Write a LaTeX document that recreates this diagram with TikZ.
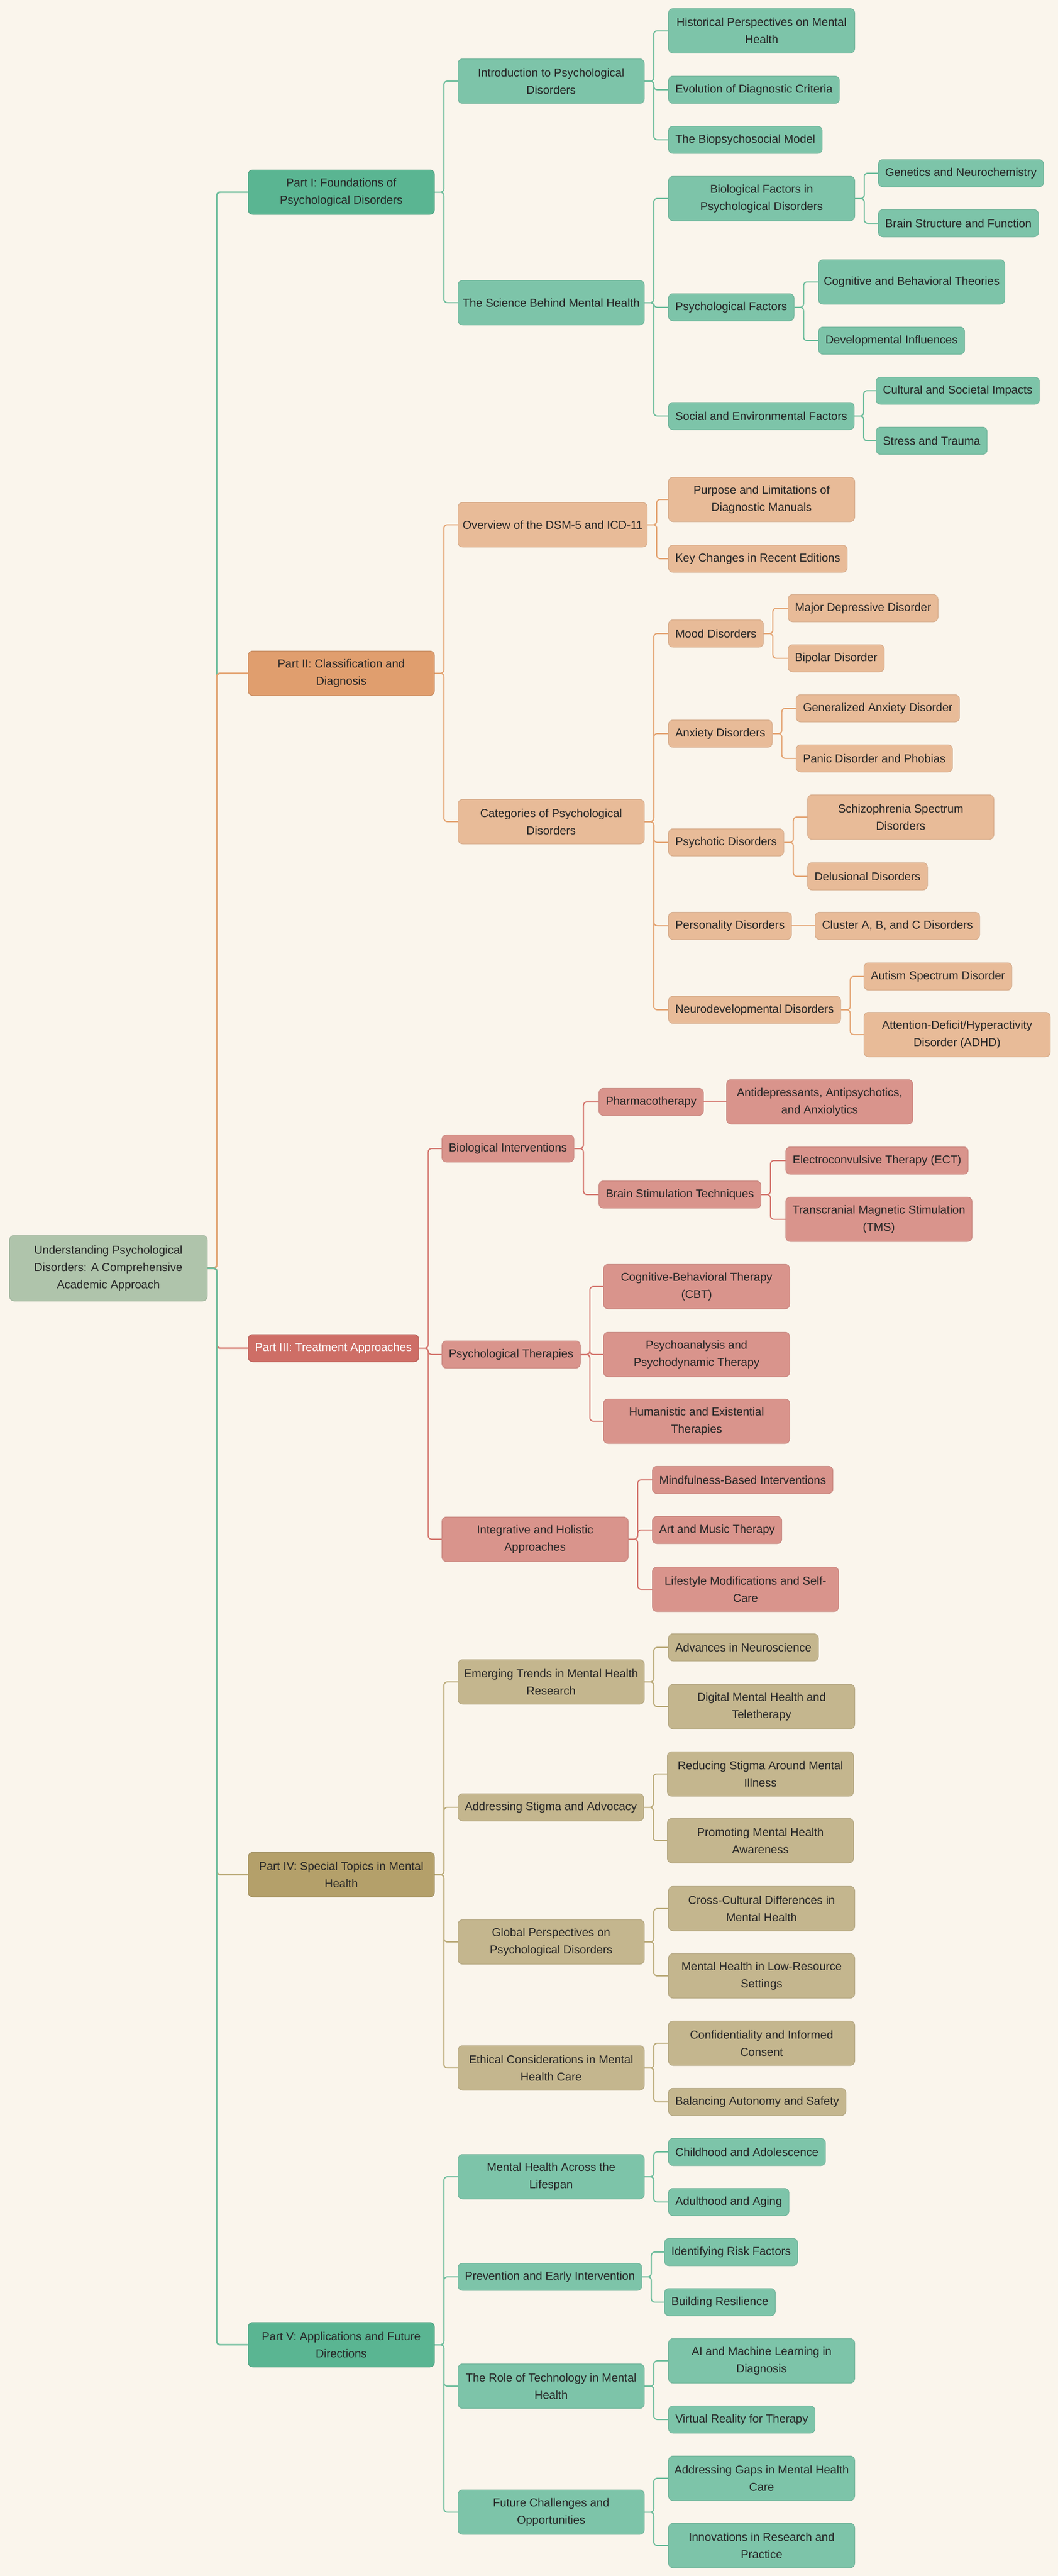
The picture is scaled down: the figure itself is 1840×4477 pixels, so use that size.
\documentclass[tikz,border=0pt]{standalone}
\usepackage{fontspec}
\setmainfont{Liberation Sans}
\usetikzlibrary{backgrounds}

\definecolor{fond}{HTML}{FAF5EC}
\definecolor{racine}{HTML}{AFC4AB}
\definecolor{vertA}{HTML}{5AB592}
\definecolor{vertB}{HTML}{7DC4A9}
\definecolor{vertL}{HTML}{6DBD9C}
\definecolor{orA}{HTML}{E09E6E}
\definecolor{orB}{HTML}{E8BB98}
\definecolor{orL}{HTML}{E4A574}
\definecolor{rgA}{HTML}{CE6E66}
\definecolor{rgB}{HTML}{D9948C}
\definecolor{rgL}{HTML}{D4776F}
\definecolor{olA}{HTML}{B4A06A}
\definecolor{olB}{HTML}{C4B68E}
\definecolor{olL}{HTML}{BBAB7A}

% lien parent -> enfant
\newcommand{\Lien}[3]{%
    \draw[#1] (#2.east) -- ++(16,0) |- (#3.west);
}
% lien direct (enfant unique, meme hauteur)
\newcommand{\Droit}[3]{%
    \draw[#1] (#2.east) -- (#3.west);
}

\begin{document}
\begin{tikzpicture}[x=0.5pt,y=-0.5pt,
    boite/.style={rounded corners=4pt,anchor=west,minimum height=23.75pt,
        inner xsep=6pt,inner ysep=2pt,line width=0.5pt,text=black!85,
        font=\fontsize{10}{15}\selectfont},
    large/.style={boite,align=center,minimum width=162pt,
        minimum height=38.75pt,inner xsep=4pt},
    rac/.style={fill=racine,draw=racine!92!black},
    vA/.style={fill=vertA,draw=vertA!88!black},
    vB/.style={fill=vertB,draw=vertB!92!black},
    oA/.style={fill=orA,draw=orA!88!black},
    oB/.style={fill=orB,draw=orB!92!black},
    rA/.style={fill=rgA,draw=rgA!88!black,text=white},
    rB/.style={fill=rgB,draw=rgB!92!black},
    lA/.style={fill=olA,draw=olA!88!black},
    lB/.style={fill=olB,draw=olB!92!black},
    lien/.style={rounded corners=3pt,line width=1pt},
    tronc/.style={lien,line width=1.4pt}]

\useasboundingbox (0,0) rectangle (1840,4477);

% racine
\node[large,rac,minimum width=172pt,minimum height=57pt] (root) at (16,2204)
    {Understanding Psychological\\Disorders: A Comprehensive\\Academic Approach};

% Part I
\node[large,vA] (p1) at (431,334) {Part I: Foundations of\\Psychological Disorders};
\node[large,vB] (intro) at (796,141) {Introduction to Psychological\\Disorders};
\node[large,vB] (science) at (796,526) {The Science Behind Mental Health};
\node[large,vB] (hist) at (1162,53.5) {Historical Perspectives on Mental\\Health};
\node[boite,vB] (evol) at (1162,156) {Evolution of Diagnostic Criteria};
\node[boite,vB] (biopsy) at (1162,243) {The Biopsychosocial Model};
\node[large,vB] (biofac) at (1162,345) {Biological Factors in\\Psychological Disorders};
\node[boite,vB] (psyfac) at (1162,534) {Psychological Factors};
\node[boite,vB] (socfac) at (1162,723) {Social and Environmental Factors};
\node[boite,vB] (genet) at (1527,301) {Genetics and Neurochemistry};
\node[boite,vB] (brain) at (1527,388) {Brain Structure and Function};
\node[large,vB] (cogbeh) at (1423,490) {Cognitive and Behavioral Theories};
\node[boite,vB] (devinf) at (1423,592) {Developmental Influences};
\node[boite,vB] (cult) at (1523,679) {Cultural and Societal Impacts};
\node[boite,vB] (stress) at (1523,766) {Stress and Trauma};

% Part II
\node[large,oA] (p2) at (431,1170) {Part II: Classification and\\Diagnosis};
\node[large,oB] (overview) at (796,912) {Overview of the DSM-5 and ICD-11};
\node[large,oB] (categ) at (796,1428) {Categories of Psychological\\Disorders};
\node[large,oB] (purpose) at (1162,868) {Purpose and Limitations of\\Diagnostic Manuals};
\node[boite,oB] (keychg) at (1162,971) {Key Changes in Recent Editions};
\node[boite,oB] (mood) at (1162,1101) {Mood Disorders};
\node[boite,oB] (anxiety) at (1162,1275) {Anxiety Disorders};
\node[boite,oB] (psychotic) at (1162,1464) {Psychotic Disorders};
\node[boite,oB] (personal) at (1162,1609) {Personality Disorders};
\node[boite,oB] (neuro) at (1162,1755) {Neurodevelopmental Disorders};
\node[boite,oB] (majdep) at (1370,1057) {Major Depressive Disorder};
\node[boite,oB] (bipolar) at (1370,1144) {Bipolar Disorder};
\node[boite,oB] (gad) at (1384,1231) {Generalized Anxiety Disorder};
\node[boite,oB] (panic) at (1384,1318) {Panic Disorder and Phobias};
\node[large,oB] (schizo) at (1404,1420) {Schizophrenia Spectrum\\Disorders};
\node[boite,oB] (delus) at (1404,1523) {Delusional Disorders};
\node[boite,oB] (cluster) at (1417,1609) {Cluster A, B, and C Disorders};
\node[boite,oB] (autism) at (1502,1697) {Autism Spectrum Disorder};
\node[large,oB] (adhd) at (1502,1798) {Attention-Deficit/Hyperactivity\\Disorder (ADHD)};

% Part III
\node[boite,rA] (p3) at (431,2343) {Part III: Treatment Approaches};
\node[boite,rB] (bioint) at (768,1996) {Biological Interventions};
\node[boite,rB] (psyther) at (768,2354) {Psychological Therapies};
\node[large,rB] (integ) at (768,2675) {Integrative and Holistic\\Approaches};
\node[boite,rB] (pharma) at (1041,1915) {Pharmacotherapy};
\node[boite,rB] (brainstim) at (1041,2076) {Brain Stimulation Techniques};
\node[large,rB] (antidep) at (1263,1915) {Antidepressants, Antipsychotics,\\and Anxiolytics};
\node[boite,rB] (ect) at (1366,2017) {Electroconvulsive Therapy (ECT)};
\node[large,rB] (tms) at (1366,2119) {Transcranial Magnetic Stimulation\\(TMS)};
\node[large,rB] (cbt) at (1049,2236) {Cognitive-Behavioral Therapy\\(CBT)};
\node[large,rB] (psychoan) at (1049,2354) {Psychoanalysis and\\Psychodynamic Therapy};
\node[large,rB] (human) at (1049,2470) {Humanistic and Existential\\Therapies};
\node[boite,rB] (mindful) at (1134,2572) {Mindfulness-Based Interventions};
\node[boite,rB] (artmus) at (1134,2659) {Art and Music Therapy};
\node[large,rB] (lifest) at (1134,2762) {Lifestyle Modifications and Self-\\Care};

% Part IV
\node[large,lA] (p4) at (431,3258) {Part IV: Special Topics in Mental\\Health};
\node[large,lB] (emerg) at (796,2923) {Emerging Trends in Mental Health\\Research};
\node[boite,lB] (stigma) at (796,3141) {Addressing Stigma and Advocacy};
\node[large,lB] (global) at (796,3375) {Global Perspectives on\\Psychological Disorders};
\node[large,lB] (ethic) at (796,3594) {Ethical Considerations in Mental\\Health Care};
\node[boite,lB] (advances) at (1162,2863) {Advances in Neuroscience};
\node[large,lB] (digital) at (1162,2966) {Digital Mental Health and\\Teletherapy};
\node[large,lB] (reduc) at (1160,3083) {Reducing Stigma Around Mental\\Illness};
\node[large,lB] (promot) at (1160,3199) {Promoting Mental Health\\Awareness};
\node[large,lB] (cross) at (1162,3317) {Cross-Cultural Differences in\\Mental Health};
\node[large,lB] (lowres) at (1162,3434) {Mental Health in Low-Resource\\Settings};
\node[large,lB] (confid) at (1162,3551) {Confidentiality and Informed\\Consent};
\node[boite,lB] (balanc) at (1162,3653) {Balancing Autonomy and Safety};

% Part V
\node[large,vA] (p5) at (431,4075) {Part V: Applications and Future\\Directions};
\node[large,vB] (lifespan) at (796,3783) {Mental Health Across the\\Lifespan};
\node[boite,vB] (prevent) at (796,3957) {Prevention and Early Intervention};
\node[large,vB] (techno) at (796,4147) {The Role of Technology in Mental\\Health};
\node[large,vB] (future) at (796,4366) {Future Challenges and\\Opportunities};
\node[boite,vB] (child) at (1162,3740) {Childhood and Adolescence};
\node[boite,vB] (adult) at (1162,3827) {Adulthood and Aging};
\node[boite,vB] (risk) at (1155,3914) {Identifying Risk Factors};
\node[boite,vB] (resil) at (1155,4001) {Building Resilience};
\node[large,vB] (ai) at (1162,4103) {AI and Machine Learning in\\Diagnosis};
\node[boite,vB] (vr) at (1162,4205) {Virtual Reality for Therapy};
\node[large,vB] (gaps) at (1162,4307) {Addressing Gaps in Mental Health\\Care};
\node[large,vB] (innov) at (1162,4424) {Innovations in Research and\\Practice};

\begin{scope}[on background layer]
\fill[fond] (0,0) rectangle (1840,4477);

% branche I
\Lien{tronc,vertL}{root}{p1}
\Lien{lien,vertL}{p1}{intro}
\Lien{lien,vertL}{p1}{science}
\Lien{lien,vertL}{intro}{hist}
\Lien{lien,vertL}{intro}{evol}
\Lien{lien,vertL}{intro}{biopsy}
\Lien{lien,vertL}{science}{biofac}
\Lien{lien,vertL}{science}{psyfac}
\Lien{lien,vertL}{science}{socfac}
\Lien{lien,vertL}{biofac}{genet}
\Lien{lien,vertL}{biofac}{brain}
\Lien{lien,vertL}{psyfac}{cogbeh}
\Lien{lien,vertL}{psyfac}{devinf}
\Lien{lien,vertL}{socfac}{cult}
\Lien{lien,vertL}{socfac}{stress}

% branche II
\Lien{tronc,orL}{root}{p2}
\Lien{lien,orL}{p2}{overview}
\Lien{lien,orL}{p2}{categ}
\Lien{lien,orL}{overview}{purpose}
\Lien{lien,orL}{overview}{keychg}
\Lien{lien,orL}{categ}{mood}
\Lien{lien,orL}{categ}{anxiety}
\Lien{lien,orL}{categ}{psychotic}
\Lien{lien,orL}{categ}{personal}
\Lien{lien,orL}{categ}{neuro}
\Lien{lien,orL}{mood}{majdep}
\Lien{lien,orL}{mood}{bipolar}
\Lien{lien,orL}{anxiety}{gad}
\Lien{lien,orL}{anxiety}{panic}
\Lien{lien,orL}{psychotic}{schizo}
\Lien{lien,orL}{psychotic}{delus}
\Droit{lien,orL}{personal}{cluster}
\Lien{lien,orL}{neuro}{autism}
\Lien{lien,orL}{neuro}{adhd}

% branche III
\Lien{tronc,rgL}{root}{p3}
\Lien{lien,rgL}{p3}{bioint}
\Lien{lien,rgL}{p3}{psyther}
\Lien{lien,rgL}{p3}{integ}
\Lien{lien,rgL}{bioint}{pharma}
\Lien{lien,rgL}{bioint}{brainstim}
\Droit{lien,rgL}{pharma}{antidep}
\Lien{lien,rgL}{brainstim}{ect}
\Lien{lien,rgL}{brainstim}{tms}
\Lien{lien,rgL}{psyther}{cbt}
\Lien{lien,rgL}{psyther}{psychoan}
\Lien{lien,rgL}{psyther}{human}
\Lien{lien,rgL}{integ}{mindful}
\Lien{lien,rgL}{integ}{artmus}
\Lien{lien,rgL}{integ}{lifest}

% branche IV
\Lien{tronc,olL}{root}{p4}
\Lien{lien,olL}{p4}{emerg}
\Lien{lien,olL}{p4}{stigma}
\Lien{lien,olL}{p4}{global}
\Lien{lien,olL}{p4}{ethic}
\Lien{lien,olL}{emerg}{advances}
\Lien{lien,olL}{emerg}{digital}
\Lien{lien,olL}{stigma}{reduc}
\Lien{lien,olL}{stigma}{promot}
\Lien{lien,olL}{global}{cross}
\Lien{lien,olL}{global}{lowres}
\Lien{lien,olL}{ethic}{confid}
\Lien{lien,olL}{ethic}{balanc}

% branche V
\Lien{tronc,vertL}{root}{p5}
\Lien{lien,vertL}{p5}{lifespan}
\Lien{lien,vertL}{p5}{prevent}
\Lien{lien,vertL}{p5}{techno}
\Lien{lien,vertL}{p5}{future}
\Lien{lien,vertL}{lifespan}{child}
\Lien{lien,vertL}{lifespan}{adult}
\Lien{lien,vertL}{prevent}{risk}
\Lien{lien,vertL}{prevent}{resil}
\Lien{lien,vertL}{techno}{ai}
\Lien{lien,vertL}{techno}{vr}
\Lien{lien,vertL}{future}{gaps}
\Lien{lien,vertL}{future}{innov}
\end{scope}

\end{tikzpicture}
\end{document}
